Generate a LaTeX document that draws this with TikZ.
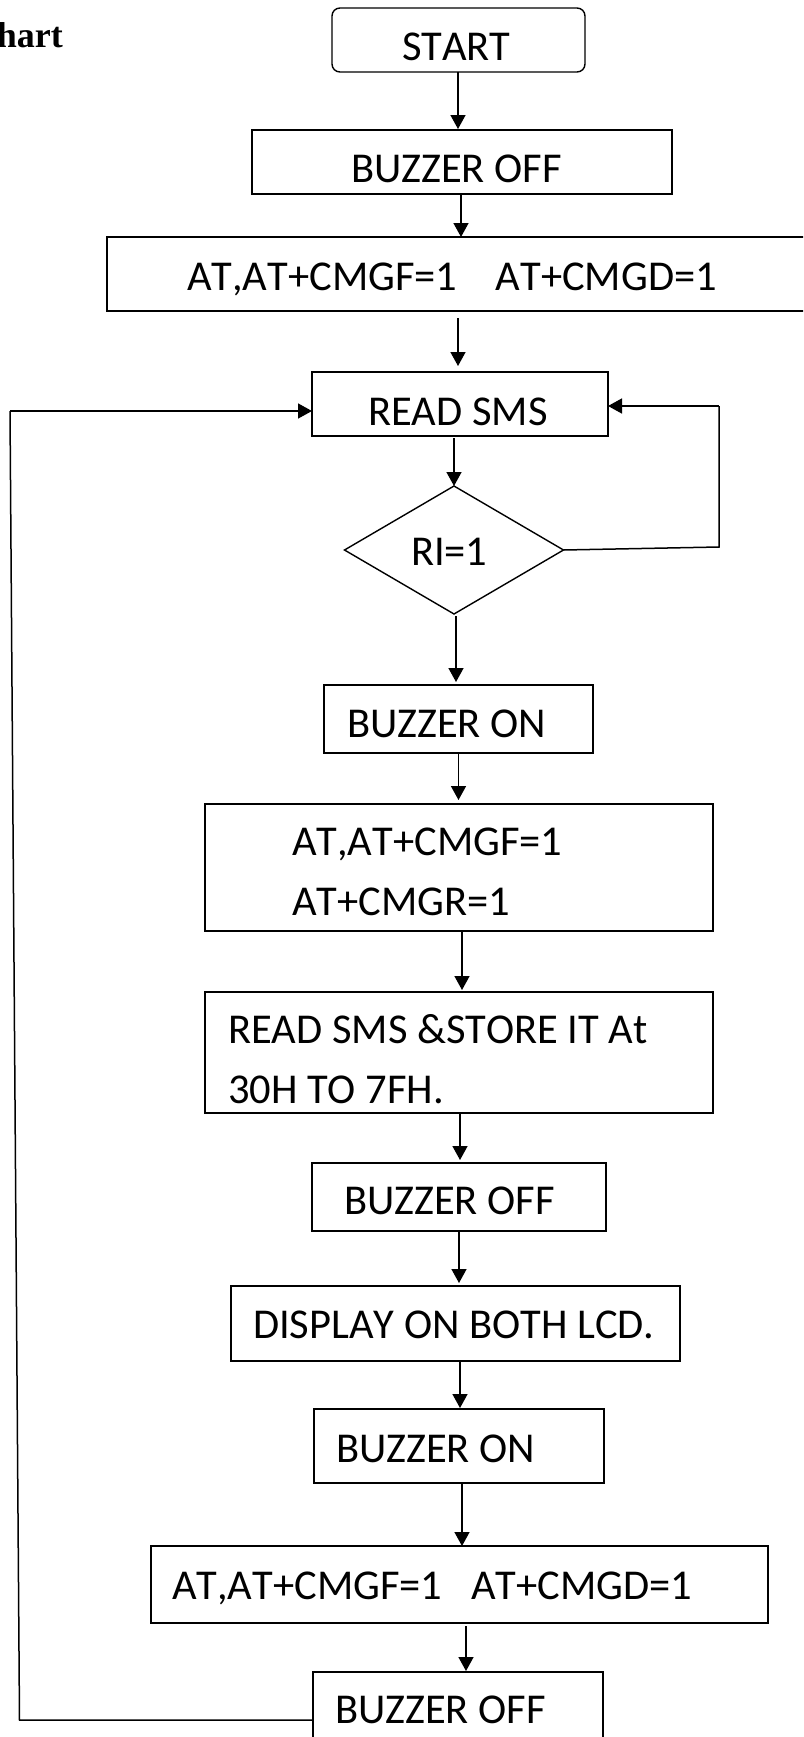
\documentclass[tikz,border=0pt]{standalone}
\usepackage{fontspec}
\setmainfont{Carlito}[Kerning=Off]
\newfontfamily\serifttl{Liberation Serif}
\usetikzlibrary{arrows.meta,shapes.geometric}
\begin{document}
\begin{tikzpicture}[x=1pt,y=-1pt,
  box/.style={draw,line width=1.4pt,inner sep=0pt,outer sep=0pt},
  rbox/.style={box,rounded corners=8pt},
  dia/.style={draw,line width=1.4pt,diamond,inner sep=0pt,outer sep=0pt},
  txt/.style={inner sep=0pt,outer sep=0pt,anchor=base west,font=\fontsize{42.5}{50}\selectfont},
  arr/.style={line width=1.5pt,-{Triangle[length=14pt,width=15pt]}},
  lin/.style={line width=1.5pt}]
\useasboundingbox (0,0) rectangle (803,1737);
\clip (0,0) rectangle (803,1737);
% title fragment
\node[inner sep=0pt,anchor=base east,font=\serifttl\bfseries\fontsize{36}{40}\selectfont] (ttl) at (63,48) {hart};
% boxes
\node[rbox,minimum width=253pt,minimum height=64pt] (start) at (458.5,40) {};
\node[box,minimum width=420pt,minimum height=64pt] (b1) at (462,162) {};
\node[box,minimum width=723pt,minimum height=74pt] (at1) at (468.5,274) {};
\node[box,minimum width=296pt,minimum height=64pt] (read) at (460,404) {};
\node[dia,minimum width=219pt,minimum height=128pt] (ri) at (454,550) {};
\node[box,minimum width=269pt,minimum height=68pt] (bon) at (458.5,719) {};
\node[box,minimum width=508pt,minimum height=127pt] (at2) at (459,867.5) {};
\node[box,minimum width=508pt,minimum height=121pt] (rs2) at (459,1052.5) {};
\node[box,minimum width=294pt,minimum height=68pt] (boff2) at (459,1197) {};
\node[box,minimum width=449pt,minimum height=75pt] (disp) at (455.5,1323.5) {};
\node[box,minimum width=290pt,minimum height=74pt] (bon2) at (459,1446) {};
\node[box,minimum width=617pt,minimum height=77pt] (at3) at (459.5,1584.5) {};
\node[box,minimum width=290pt,minimum height=88pt] (boff3) at (458,1716) {};
% texts
\node[txt] (tstart) at (402,61) {START};
\node[txt] (tb1) at (351,182) {BUZZER OFF};
\node[txt] (tat1) at (187,290) {AT,AT+CMGF=1~~~~AT+CMGD=1};
\node[txt] (tread) at (368,425) {READ SMS};
\node[txt] (tri) at (411,565) {RI=1};
\node[txt] (tbon) at (347,737) {BUZZER ON};
\node[txt] (tat2a) at (292,855) {AT,AT+CMGF=1};
\node[txt] (tat2b) at (292,915) {AT+CMGR=1};
\node[txt] (trs2a) at (228,1043) {READ SMS \&STORE IT At};
\node[txt] (trs2b) at (228,1103) {30H TO 7FH.};
\node[txt] (tboff2) at (344,1214) {BUZZER OFF};
\node[txt] (tdisp) at (253,1338) {DISPLAY ON BOTH LCD.};
\node[txt] (tbon2) at (336,1462) {BUZZER ON};
\node[txt] (tat3) at (172,1599) {AT,AT+CMGF=1~~~AT+CMGD=1};
\node[txt] (tboff3) at (335,1723) {BUZZER OFF};
% connectors
\draw[arr] ([xshift=-0.5pt]start.south) -- ([xshift=-4pt,yshift=1pt]b1.north);
\draw[arr] ([xshift=-1pt,yshift=-1pt]b1.south) -- ([xshift=-7.5pt]at1.north);
\draw[arr] ([xshift=-10.5pt,yshift=-7pt]at1.south) -- ([xshift=-2pt,yshift=6pt]read.north);
\draw[arr] ([xshift=-6pt,yshift=-2pt]read.south) -- (ri.north);
\draw[arr] ([xshift=2pt,yshift=-2pt]ri.south) -- ([xshift=-2.5pt,yshift=3pt]bon.north);
\draw[arr] (bon.south) -- ([xshift=-0.5pt,yshift=4pt]at2.north);
\draw[arr] ([xshift=3pt]at2.south) -- ([xshift=3pt,yshift=2pt]rs2.north);
\draw[arr] ([xshift=1pt]rs2.south) -- ([xshift=1pt,yshift=3pt]boff2.north);
\draw[arr] (boff2.south) -- ([xshift=3.5pt,yshift=3pt]disp.north);
\draw[arr] ([xshift=4.5pt]disp.south) -- ([xshift=1pt,yshift=1pt]bon2.north);
\draw[arr] ([xshift=3pt]bon2.south) -- ([xshift=2.5pt]at3.north);
\draw[arr] ([xshift=6.5pt,yshift=-3pt]at3.south) -- ([xshift=8pt,yshift=1pt]boff3.north);
% right loop
\coordinate (r1) at (719,547);
\coordinate (r2) at (719,406);
\draw[lin] (ri.east) -- (r1) -- (r2);
\draw[arr] (r2) -- ([yshift=-2pt]read.east);
% left loop
\coordinate (l1) at (19.5,1720);
\coordinate (l2) at (10,411);
\draw[lin] ([yshift=-4pt]boff3.west) -- (l1) -- (l2);
\draw[arr] (l2) -- ([yshift=-7pt]read.west);
\end{tikzpicture}
\end{document}
